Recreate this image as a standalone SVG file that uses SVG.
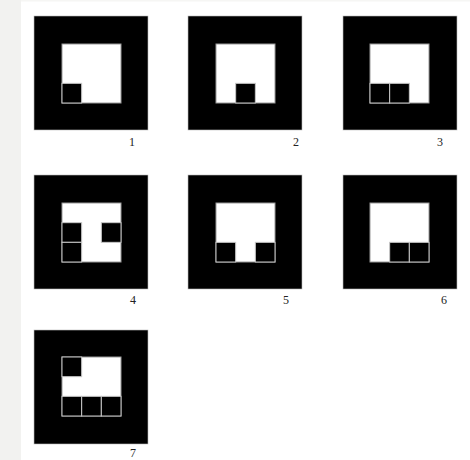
<svg xmlns="http://www.w3.org/2000/svg" width="470" height="460" viewBox="0 0 470 460">
<style>
.outer{fill:#000;stroke:#bbb;stroke-width:0.6}
.inner{fill:#fff;stroke:#999;stroke-width:1}
.cell{fill:#000;stroke:#c8c8c8;stroke-width:1}
.lbl{font-family:"Liberation Serif",serif;font-size:12px;fill:#222;text-anchor:middle}
</style>
<rect x="0" y="0" width="470" height="460" fill="#fff"/>
<rect x="0" y="0" width="21" height="460" fill="#f2f2f0"/>
<rect x="21" y="0" width="449" height="1.5" fill="#f6f6f4"/>
<g id="panel1">
<rect class="outer" x="34" y="16" width="114" height="114"/>
<rect class="inner" x="62" y="44" width="59" height="59"/>
<rect class="cell" x="62" y="83.33" width="19.67" height="19.67"/>
<text class="lbl" x="132" y="146">1</text>
</g>
<g id="panel2">
<rect class="outer" x="188" y="16" width="114" height="114"/>
<rect class="inner" x="216" y="44" width="59" height="59"/>
<rect class="cell" x="235.67" y="83.33" width="19.67" height="19.67"/>
<text class="lbl" x="296" y="146">2</text>
</g>
<g id="panel3">
<rect class="outer" x="343" y="16" width="114" height="114"/>
<rect class="inner" x="370" y="44" width="59" height="59"/>
<rect class="cell" x="370" y="83.33" width="19.67" height="19.67"/>
<rect class="cell" x="389.67" y="83.33" width="19.67" height="19.67"/>
<text class="lbl" x="440" y="146">3</text>
</g>
<g id="panel4">
<rect class="outer" x="34" y="175" width="114" height="114"/>
<rect class="inner" x="62" y="203" width="59" height="59"/>
<rect class="cell" x="62" y="222.67" width="19.67" height="19.67"/>
<rect class="cell" x="62" y="242.33" width="19.67" height="19.67"/>
<rect class="cell" x="101.33" y="222.67" width="19.67" height="19.67"/>
<text class="lbl" x="133" y="304">4</text>
</g>
<g id="panel5">
<rect class="outer" x="188" y="175" width="114" height="114"/>
<rect class="inner" x="216" y="203" width="59" height="59"/>
<rect class="cell" x="216" y="242.33" width="19.67" height="19.67"/>
<rect class="cell" x="255.33" y="242.33" width="19.67" height="19.67"/>
<text class="lbl" x="286" y="304">5</text>
</g>
<g id="panel6">
<rect class="outer" x="343" y="175" width="114" height="114"/>
<rect class="inner" x="370" y="203" width="59" height="59"/>
<rect class="cell" x="389.67" y="242.33" width="19.67" height="19.67"/>
<rect class="cell" x="409.33" y="242.33" width="19.67" height="19.67"/>
<text class="lbl" x="444" y="304">6</text>
</g>
<g id="panel7">
<rect class="outer" x="34" y="330" width="114" height="114"/>
<rect class="inner" x="62" y="357" width="59" height="59"/>
<rect class="cell" x="62" y="357" width="19.67" height="19.67"/>
<rect class="cell" x="62" y="396.33" width="19.67" height="19.67"/>
<rect class="cell" x="81.67" y="396.33" width="19.67" height="19.67"/>
<rect class="cell" x="101.33" y="396.33" width="19.67" height="19.67"/>
<text class="lbl" x="133" y="457">7</text>
</g>
<g id="connectors"></g>
</svg>
